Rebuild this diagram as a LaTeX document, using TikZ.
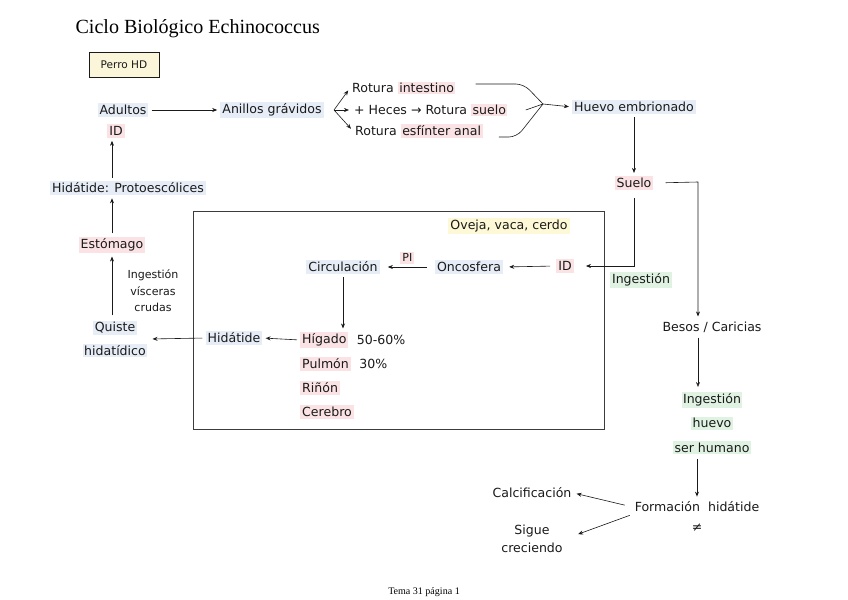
\documentclass[tikz,border=0pt]{standalone}
\usepackage{fontspec}
\setmainfont{Liberation Serif}
\newfontfamily\handfont{DejaVu Sans}
\usetikzlibrary{arrows.meta,calc,positioning}
\definecolor{ink}{HTML}{1A1A1A}
\definecolor{framegray}{HTML}{3C3C3C}
\definecolor{hlblue}{HTML}{E6EDF7}
\definecolor{hlpink}{HTML}{FBE3E5}
\definecolor{hlgreen}{HTML}{E0F3E3}
\definecolor{hlyellow}{HTML}{FDF8D6}
\definecolor{cream}{HTML}{FBF5DA}
\setlength{\fboxsep}{1.5pt}
\newcommand{\pinkpart}[1]{\colorbox{hlpink}{#1}}
\newcommand{\bluepart}[1]{\colorbox{hlblue}{#1}}
\newcommand{\greenpart}[1]{\colorbox{hlgreen}{#1}}
\tikzset{
  hand/.style={font=\handfont\fontsize{12.5}{14}\selectfont,text=ink,inner sep=2pt},
  blueword/.style={hand,fill=hlblue},
  pinkword/.style={hand,fill=hlpink},
  greenword/.style={hand,fill=hlgreen},
  yellowword/.style={hand,fill=hlyellow},
  stack/.style={hand,align=center,font=\handfont\fontsize{12.5}{24}\selectfont},
  notetext/.style={hand,align=center,font=\handfont\fontsize{11}{16.5}\selectfont},
  stroke/.style={line width=0.6pt,draw=ink},
  arrow/.style={-{Stealth[length=5pt,width=4pt]},line width=0.6pt,draw=ink,shorten >=3pt,shorten <=3pt},
  openarrow/.style={-{Stealth[open,length=5pt,width=4pt]},line width=0.6pt,draw=ink,shorten >=3pt,shorten <=3pt}
}

\begin{document}
\begin{tikzpicture}[x=0.035cm,y=-0.035cm]
    \fill[white] (0,0) rectangle (848,600);
    \useasboundingbox (0,0) rectangle (848,600);

    \node[anchor=west,font=\fontsize{20}{24}\selectfont] (title) at (72,29) {Ciclo Biológico Echinococcus};
    \node[hand,draw=ink,line width=0.7pt,fill=cream,font=\handfont\fontsize{10.5}{12}\selectfont,minimum width=70pt,minimum height=25pt] (perro) at (124,65) {Perro HD};

    \node[blueword] (adultos) at (123,110) {Adultos};
    \node[pinkword] (id1) at (116,131) {ID};
    \node[blueword] (prot) at (128,188) {Hidátide: Protoescólices};
    \node[pinkword] (esto) at (112,245) {Estómago};
    \node[notetext] (visceras) at (153,291) {Ingestión\\vísceras\\crudas};
    \node[stack] (quiste) at (115,339) {\bluepart{Quiste}\\\bluepart{hidatídico}};

    \node[blueword] (anillos) at (272,110) {Anillos grávidos};
    \coordinate (fork) at (334,110);
    \node[hand,anchor=west] (rint) at (350,88) {Rotura \pinkpart{intestino}};
    \node[hand,anchor=west] (rsue) at (352,110) {+ Heces → Rotura \pinkpart{suelo}};
    \node[hand,anchor=west] (ranal) at (353,131) {Rotura \pinkpart{esfínter anal}};
    \coordinate (join) at (543,104);
    \node[blueword] (huevo) at (634,107) {Huevo embrionado};
    \node[pinkword] (suelo) at (634,183) {Suelo};
    \coordinate (sbend) at (698,182);
    \node[greenword] (ingest) at (641,280) {Ingestión};

    \draw[framegray,line width=0.8pt] (193,211) rectangle (604,429);
    \node[yellowword] (oveja) at (509,226) {Oveja, vaca, cerdo};
    \node[pinkword] (id2) at (565,266) {ID};
    \node[blueword] (onco) at (469,267) {Oncosfera};
    \node[blueword] (circ) at (343,267) {Circulación};
    \node[pinkword,anchor=west] (hig) at (300,340) {Hígado};
    \node[hand,right=6pt of hig] (pc1) {50-60\%};
    \node[pinkword,anchor=west] (pulm) at (300,364) {Pulmón};
    \node[hand,right=6pt of pulm] (pc2) {30\%};
    \node[pinkword,anchor=west] (rinon) at (300,388) {Riñón};
    \node[pinkword,anchor=west] (cereb) at (300,412) {Cerebro};
    \node[blueword] (hid) at (234,338) {Hidátide};

    \node[hand] (besos) at (712,327) {Besos / Caricias};
    \node[stack] (ingh) at (712,423) {\greenpart{Ingestión}\\\greenpart{huevo}\\\greenpart{ser humano}};
    \node[hand] (form) at (697,507) {Formación\ \ hidátide};
    \node[hand] (neq) at (697,528) {≠};
    \node[hand] (calc) at (532,493) {Calcificación};
    \node[hand,align=center,font=\handfont\fontsize{12.5}{18}\selectfont] (sigue) at (532,539) {Sigue\\creciendo};

    \node[font=\fontsize{10}{12}\selectfont] (footer) at (424,592) {Tema 31 página 1};

    \draw[arrow] (adultos.east) -- (anillos.west);
    \draw[arrow,shorten <=0pt] (fork) -- (rint.west);
    \draw[arrow,shorten <=0pt] (fork) -- (rsue.west);
    \draw[arrow,shorten <=0pt] (fork) -- (ranal.west);
    \draw[stroke,rounded corners=8pt] ([xshift=18pt,yshift=4pt]rint.east) -- ++(48,0) -- (join);
    \draw[stroke] ([xshift=16pt]rsue.east) -- (join);
    \draw[stroke,rounded corners=8pt] ([xshift=14pt,yshift=-6pt]ranal.east) -- ++(18,0) -- (join);
    \draw[arrow,shorten <=0pt] (join) -- (huevo.west);
    \draw[arrow] (huevo.south) -- (suelo.north);
    \draw[arrow,shorten <=12pt] (suelo.east) -- (sbend) -- (sbend |- besos.north);
    \draw[arrow,shorten <=8pt,shorten >=12pt] (suelo.south) |- (id2.east);
    \draw[arrow,shorten >=6pt,shorten <=6pt] (id2.west) -- (onco.east);
    \draw[arrow,shorten >=8pt,shorten <=8pt] (onco.west) -- node[pinkword,above=3pt,font=\handfont\fontsize{11}{12}\selectfont] (pi) {PI} (circ.east);
    \draw[arrow] (circ.south) -- (circ.south |- hig.north);
    \draw[openarrow] (hig.west) -- (hid.east);
    \draw[arrow] (hid.west) -- (quiste.east);
    \draw[arrow] (quiste.north -| esto.south) -- (esto.south);
    \draw[arrow] (esto.north) -- (esto.north |- prot.south);
    \draw[arrow] (prot.north -| esto.north) -- (esto.north |- id1.south);
    \draw[openarrow] (besos.south -| sbend) -- (sbend |- ingh.north);
    \draw[openarrow] (ingh.south -| form.north) -- (form.north);
    \draw[arrow,shorten <=8pt] (form.west) -- (calc.east);
    \draw[arrow,shorten >=14pt] (form.south west) -- (sigue.east);
\end{tikzpicture}
\end{document}
